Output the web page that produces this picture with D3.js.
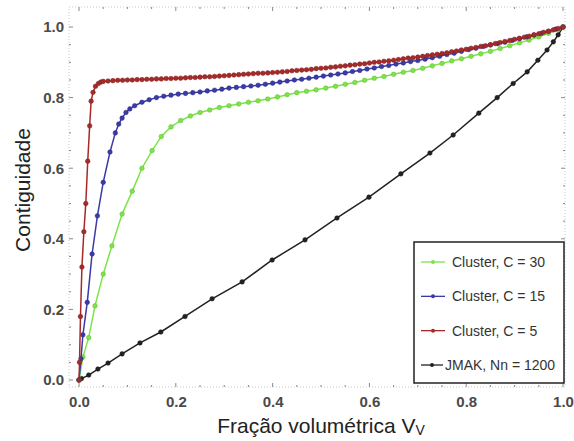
<!DOCTYPE html>
<html>
<head>
<meta charset="utf-8">
<script src="https://cdn.jsdelivr.net/npm/d3@7"></script>
<style>
  body { margin: 0; background: #fff; }
  svg { display: block; font-family: "Liberation Sans", Arial, sans-serif; }
</style>
</head>
<body>
<div class="chart"></div>
<script>
// data
const seriesNames = ["Cluster, C = 30", "Cluster, C = 15", "Cluster, C = 5", "JMAK, Nn = 1200"];
const xTicks = [0, 0.2, 0.4, 0.6, 0.8, 1.0];
const yTicks = [0, 0.2, 0.4, 0.6, 0.8, 1.0];

// Cluster C = 5 (red)
const c5X = [0, 0.001, 0.003, 0.006, 0.010, 0.014, 0.018, 0.022, 0.025, 0.029, 0.034, 0.040, 0.045,
  0.05, 0.06, 0.07, 0.08, 0.09, 0.10, 0.11, 0.12, 0.13, 0.14, 0.15, 0.16, 0.17, 0.18, 0.19, 0.20,
  0.21, 0.22, 0.23, 0.24, 0.25, 0.26, 0.27, 0.28, 0.29, 0.30, 0.31, 0.32, 0.33, 0.34, 0.35, 0.36,
  0.37, 0.38, 0.39, 0.40, 0.41, 0.42, 0.43, 0.44, 0.45, 0.46, 0.47, 0.48, 0.49, 0.50, 0.51, 0.52,
  0.53, 0.54, 0.55, 0.56, 0.57, 0.58, 0.59, 0.60, 0.61, 0.62, 0.63, 0.64, 0.65, 0.66, 0.67, 0.68,
  0.69, 0.70, 0.71, 0.72, 0.73, 0.74, 0.75, 0.76, 0.77, 0.78, 0.79, 0.80, 0.81, 0.82, 0.83, 0.84,
  0.85, 0.86, 0.87, 0.88, 0.89, 0.90, 0.91, 0.92, 0.93, 0.94, 0.95, 0.96, 0.97, 0.98, 0.99, 1.00];
const c5Y = [0, 0.05, 0.18, 0.32, 0.42, 0.50, 0.62, 0.72, 0.79, 0.815, 0.832, 0.840, 0.844,
  0.846, 0.847, 0.848, 0.849, 0.849, 0.850, 0.850, 0.851, 0.851, 0.852, 0.852, 0.853, 0.853, 0.854, 0.854, 0.855,
  0.855, 0.856, 0.857, 0.857, 0.858, 0.859, 0.859, 0.860, 0.861, 0.862, 0.863, 0.864, 0.865, 0.866, 0.867, 0.868,
  0.869, 0.869, 0.870, 0.871, 0.872, 0.873, 0.874, 0.876, 0.877, 0.878, 0.879, 0.880, 0.882, 0.883, 0.884, 0.886,
  0.887, 0.889, 0.890, 0.892, 0.893, 0.895, 0.896, 0.898, 0.900, 0.901, 0.903, 0.904, 0.906, 0.908, 0.910, 0.912,
  0.913, 0.915, 0.917, 0.919, 0.921, 0.923, 0.925, 0.927, 0.930, 0.932, 0.935, 0.937, 0.940, 0.942, 0.945, 0.947,
  0.950, 0.953, 0.956, 0.959, 0.962, 0.965, 0.968, 0.971, 0.974, 0.978, 0.981, 0.985, 0.988, 0.992, 0.996, 1.000];

// Cluster C = 15 (blue)
const c15X = [0, 0.004, 0.008, 0.017, 0.027, 0.038, 0.050, 0.064, 0.075, 0.082, 0.089, 0.097, 0.105, 0.115,
  0.130, 0.145, 0.160, 0.175, 0.190, 0.205, 0.220, 0.235, 0.250, 0.265, 0.280, 0.295, 0.310, 0.325,
  0.340, 0.355, 0.370, 0.385, 0.400, 0.415, 0.430, 0.445, 0.460, 0.475, 0.490, 0.505, 0.520, 0.535,
  0.550, 0.565, 0.580, 0.595, 0.610, 0.625, 0.640, 0.655, 0.670, 0.685, 0.700, 0.715, 0.730, 0.745,
  0.760, 0.775, 0.790, 0.805, 0.820, 0.835, 0.850, 0.865, 0.880, 0.895, 0.910, 0.925, 0.940, 0.955,
  0.970, 0.985, 1.000];
const c15Y = [0, 0.06, 0.128, 0.22, 0.357, 0.465, 0.56, 0.646, 0.70, 0.725, 0.742, 0.758, 0.768, 0.777,
  0.787, 0.794, 0.800, 0.804, 0.807, 0.810, 0.812, 0.814, 0.816, 0.819, 0.821, 0.824, 0.827, 0.829,
  0.831, 0.833, 0.835, 0.838, 0.841, 0.844, 0.847, 0.850, 0.852, 0.855, 0.858, 0.861, 0.864, 0.867,
  0.870, 0.874, 0.877, 0.881, 0.884, 0.888, 0.891, 0.895, 0.898, 0.902, 0.905, 0.909, 0.913, 0.917,
  0.922, 0.926, 0.931, 0.936, 0.940, 0.945, 0.949, 0.953, 0.957, 0.962, 0.967, 0.972, 0.977, 0.982,
  0.988, 0.994, 1.000];

// Cluster C = 30 (green)
const c30X = [0, 0.008, 0.020, 0.033, 0.050, 0.068, 0.089, 0.110, 0.130, 0.151, 0.170, 0.190, 0.210,
  0.230, 0.250, 0.270, 0.290, 0.310, 0.330, 0.350, 0.370, 0.390, 0.410, 0.430, 0.450, 0.470, 0.490,
  0.510, 0.530, 0.550, 0.570, 0.590, 0.610, 0.630, 0.650, 0.670, 0.690, 0.710, 0.730, 0.750, 0.770,
  0.790, 0.810, 0.830, 0.850, 0.870, 0.890, 0.910, 0.930, 0.950, 0.970, 0.990, 1.000];
const c30Y = [0, 0.065, 0.12, 0.21, 0.30, 0.38, 0.47, 0.535, 0.60, 0.65, 0.69, 0.717, 0.735,
  0.748, 0.758, 0.765, 0.772, 0.777, 0.782, 0.787, 0.791, 0.796, 0.802, 0.808, 0.814, 0.818, 0.822,
  0.827, 0.832, 0.838, 0.843, 0.849, 0.855, 0.860, 0.866, 0.872, 0.877, 0.883, 0.890, 0.897, 0.904,
  0.910, 0.917, 0.924, 0.931, 0.939, 0.947, 0.955, 0.963, 0.972, 0.982, 0.993, 1.000];

// JMAK, Nn = 1200 (black)
const jmakX = [0, 0.005, 0.020, 0.039, 0.060, 0.089, 0.126, 0.169, 0.219, 0.275, 0.337, 0.399, 0.467,
  0.533, 0.599, 0.665, 0.725, 0.773, 0.826, 0.864, 0.897, 0.926, 0.948, 0.967, 0.980, 0.990, 1.000];
const jmakY = [0, 0.004, 0.014, 0.031, 0.048, 0.074, 0.105, 0.136, 0.180, 0.230, 0.278, 0.340, 0.397,
  0.459, 0.518, 0.584, 0.643, 0.694, 0.756, 0.800, 0.840, 0.873, 0.906, 0.935, 0.958, 0.978, 1.000];

const colors = ["#7be447", "#3a3aa8", "#a52a2a", "#222222"];
const series = [
  { name: seriesNames[0], xs: c30X, ys: c30Y, color: colors[0] },
  { name: seriesNames[1], xs: c15X, ys: c15Y, color: colors[1] },
  { name: seriesNames[2], xs: c5X, ys: c5Y, color: colors[2] },
  { name: seriesNames[3], xs: jmakX, ys: jmakY, color: colors[3] }
];

let width = 574;
let height = 441;
let plot = { left: 69, right: 565, top: 7, bottom: 387 };

// scales (0 -> 79px, 1 -> 563px ; 0 -> 380px, 1 -> 27px)
let x = d3.scaleLinear().domain([-0.0207, 1.0041]).range([plot.left, plot.right]);
let y = d3.scaleLinear().domain([-0.0198, 1.0567]).range([plot.bottom, plot.top]);

let svg = d3
  .select(".chart")
  .append("svg")
  .attr("width", width)
  .attr("height", height);

// dotted frame
svg
  .append("rect")
  .attr("x", plot.left)
  .attr("y", plot.top)
  .attr("width", plot.right - plot.left)
  .attr("height", plot.bottom - plot.top)
  .attr("fill", "none")
  .attr("stroke", "#c8c8c8")
  .attr("stroke-width", 1)
  .attr("stroke-dasharray", "1,2");

let minor = d3.range(0, 1.0001, 0.05);

// frame ticks, bottom/top/left/right
let tickG = svg.append("g").attr("id", "ticks").attr("stroke", "#888");
minor.forEach(v => {
  let isMajor = Math.abs(v * 5 - Math.round(v * 5)) < 1e-6;
  let len = isMajor ? 4 : 2;
  tickG.append("line").attr("x1", x(v)).attr("x2", x(v)).attr("y1", plot.bottom).attr("y2", plot.bottom - len);
  tickG.append("line").attr("x1", x(v)).attr("x2", x(v)).attr("y1", plot.top).attr("y2", plot.top + len);
  tickG.append("line").attr("y1", y(v)).attr("y2", y(v)).attr("x1", plot.left).attr("x2", plot.left + len);
  tickG.append("line").attr("y1", y(v)).attr("y2", y(v)).attr("x1", plot.right).attr("x2", plot.right - len);
});

// tick labels through d3 axes
let xAxis = g =>
  g
    .attr("transform", `translate(0,${plot.bottom})`)
    .call(d3.axisBottom(x).tickValues(xTicks).tickFormat(d3.format(".1f")).tickSize(0).tickPadding(9))
    .call(g => g.select(".domain").remove());

let yAxis = g =>
  g
    .attr("transform", `translate(${plot.left},0)`)
    .call(d3.axisLeft(y).tickValues(yTicks).tickFormat(d3.format(".1f")).tickSize(0).tickPadding(5))
    .call(g => g.select(".domain").remove());

svg.append("g").attr("id", "xAxis").call(xAxis);
svg.append("g").attr("id", "yAxis").call(yAxis);

svg
  .selectAll("#xAxis text, #yAxis text")
  .attr("font-family", "Liberation Sans, Arial, sans-serif")
  .attr("font-size", 15)
  .attr("font-weight", "bold")
  .attr("fill", "#4a4a4a");

// axis titles
svg
  .append("text")
  .attr("x", 321)
  .attr("y", 433)
  .attr("text-anchor", "middle")
  .attr("font-size", 21)
  .attr("fill", "#222")
  .text("Fração volumétrica V")
  .append("tspan")
  .attr("font-size", 14)
  .attr("dy", 2)
  .text("V");

svg
  .append("text")
  .attr("transform", `translate(30,190) rotate(-90)`)
  .attr("text-anchor", "middle")
  .attr("font-size", 21)
  .attr("fill", "#222")
  .text("Contiguidade");

// curves
let line = d3
  .line()
  .x(d => x(d[0]))
  .y(d => y(d[1]));

let group = svg.append("g").attr("id", "group");

// draw black first so the cluster curves sit on top
[3, 0, 1, 2].forEach(i => {
  let s = series[i];
  let pts = s.xs.map((v, j) => [v, s.ys[j]]);
  let g = group.append("g");
  g.append("path")
    .attr("d", line(pts))
    .attr("fill", "none")
    .attr("stroke", s.color)
    .attr("stroke-width", 1.5);
  g.selectAll("circle")
    .data(pts)
    .enter()
    .append("circle")
    .attr("cx", d => x(d[0]))
    .attr("cy", d => y(d[1]))
    .attr("r", 2.3)
    .attr("fill", s.color)
    .attr("stroke", d3.color(s.color).darker(0.6))
    .attr("stroke-width", 0.5);
});

// legend
let legend = svg.append("g").attr("id", "legend");
legend
  .append("rect")
  .attr("x", 414)
  .attr("y", 242)
  .attr("width", 150)
  .attr("height", 141)
  .attr("fill", "#fff")
  .attr("stroke", "#222")
  .attr("stroke-width", 1.5);

let legendY = d3.scalePoint().domain(seriesNames).range([262, 365]);

series.forEach((s, i) => {
  let ly = legendY(s.name);
  let isLast = i === 3;
  let x0 = 421, x1 = isLast ? 443 : 445;
  legend.append("line")
    .attr("x1", x0).attr("x2", x1)
    .attr("y1", ly).attr("y2", ly)
    .attr("stroke", s.color)
    .attr("stroke-width", 1.3);
  legend.append("circle")
    .attr("cx", (x0 + x1) / 2)
    .attr("cy", ly)
    .attr("r", 2)
    .attr("fill", s.color);
  legend.append("text")
    .attr("x", isLast ? 445 : 452)
    .attr("y", ly + 5)
    .attr("font-size", 14)
    .attr("fill", "#333")
    .text(s.name);
});
</script>
</body>
</html>
